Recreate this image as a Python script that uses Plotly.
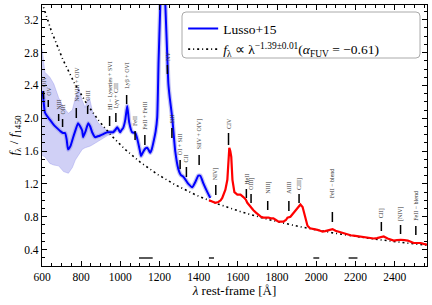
import numpy as np
import plotly.graph_objects as go

# ---------------- data ----------------
blue_wave = [600, 605, 615, 628, 641, 660, 677, 695, 707, 718, 726, 733, 745, 758, 769, 784,
             795, 805, 810, 822, 836, 846, 856, 871, 885, 897, 915, 933, 950, 963, 975, 984,
             992, 999, 1007, 1014, 1025, 1035, 1045, 1060, 1076, 1085, 1091, 1100, 1106, 1116,
             1127, 1137, 1145, 1152, 1160, 1168, 1180, 1188, 1195, 1203, 1210, 1216, 1224, 1230,
             1238, 1245, 1252, 1265, 1280, 1296, 1308, 1320, 1333, 1347, 1367, 1382, 1398, 1408,
             1423, 1444, 1459]
blue_flux = [2.33, 2.28, 2.07, 2.02, 1.98, 1.92, 1.88, 1.84, 1.82, 1.82, 1.74, 1.62, 1.66, 1.76, 1.84, 1.94,
             1.90, 1.85, 1.77, 1.84, 1.94, 1.90, 1.83, 1.77, 1.78, 1.79, 1.81, 1.83, 1.83, 1.83, 1.86, 1.89,
             1.86, 1.83, 1.86, 1.88, 1.98, 2.15, 1.95, 1.83, 1.82, 1.76, 1.70, 1.60, 1.54, 1.59,
             1.63, 1.64, 1.61, 1.58, 1.62, 1.70, 1.84, 2.01, 2.70, 3.31, 3.80, 4.00, 3.80, 3.35,
             2.85, 2.42, 2.25, 2.00, 1.60, 1.38, 1.31, 1.29, 1.25, 1.20, 1.16, 1.22, 1.30, 1.30,
             1.21, 1.10, 1.03]

band_wave = [600, 615, 640, 660, 685, 710, 735, 755, 770, 785, 805, 820, 836, 845, 860, 885,
             910, 935, 960, 985, 1000]
band_upper = [2.85, 2.56, 2.50, 2.42, 2.25, 2.13, 2.06, 2.10, 2.25, 2.38, 2.22, 2.13, 2.25, 2.22, 2.06, 1.95,
              1.89, 1.85, 1.85, 1.90, 1.86]
band_lower = [1.55, 1.53, 1.45, 1.43, 1.42, 1.35, 1.33, 1.40, 1.49, 1.55, 1.62, 1.64, 1.65, 1.66, 1.68, 1.72,
              1.75, 1.79, 1.81, 1.85, 1.82]

red_wave = [1452, 1469, 1485, 1500, 1512, 1520, 1530, 1536, 1546, 1551, 1556, 1561, 1566, 1572, 1582,
            1597, 1613, 1628, 1640, 1648, 1664, 1679, 1692, 1705, 1718, 1730, 1743, 1756, 1768, 1781,
            1794, 1807, 1820, 1832, 1845, 1853, 1868, 1884, 1895, 1904, 1912, 1919, 1930, 1945, 1955,
            1968, 1981, 1994, 2006, 2020, 2032, 2045, 2057, 2070, 2083, 2098, 2110, 2124, 2142, 2160,
            2175, 2190, 2208, 2226, 2245, 2262, 2278, 2293, 2310, 2328, 2344, 2364, 2380, 2395, 2412,
            2431, 2450, 2467, 2482, 2497, 2515, 2533, 2548, 2565]
red_flux = [1.00, 0.98, 0.97, 0.98, 1.00, 1.03, 1.08, 1.13, 1.25, 1.49, 1.64, 1.60, 1.53, 1.25, 1.10,
            1.07, 1.07, 1.04, 1.01, 0.97, 0.92, 0.88, 0.85, 0.82, 0.80, 0.79, 0.79, 0.79, 0.78, 0.78,
            0.76, 0.74, 0.74, 0.74, 0.76, 0.79, 0.80, 0.85, 0.88, 0.91, 0.94, 0.95, 0.92, 0.80, 0.69,
            0.66, 0.65, 0.645, 0.64, 0.63, 0.62, 0.625, 0.63, 0.64, 0.65, 0.63, 0.62, 0.61, 0.595, 0.58,
            0.575, 0.57, 0.565, 0.56, 0.555, 0.55, 0.54, 0.535, 0.54, 0.55, 0.56, 0.535, 0.52, 0.51, 0.515,
            0.52, 0.515, 0.51, 0.495, 0.48, 0.48, 0.48, 0.47, 0.46]

# power-law continuum model: f ∝ λ^slope, normalised at 1450 Å
pl_slope = -1.39
pl_norm = 1.0
pl_wave = np.linspace(600, 2565, 300)
pl_flux = pl_norm * (pl_wave / 1450.0) ** pl_slope

# emission-line identifications
line_names = ["OIV", "OV", "NIII", "OIII", "NeVIII + OIV", "OIII", "HI − Lyseries + SVI",
              "Lyγ + CIII", "Lyβ + OVI", "FeII", "FeII + FeIII", "NV", "SiII", "OI + SiII", "CII",
              "SiIV + OIV]", "NIV]", "CIV", "HeII", "OIII]", "NIII]", "AlIII", "CIII]",
              "FeII − blend", "CII]", "[NIV]", "FeII − blend"]
line_wave = [608, 632, 685, 705, 775, 833, 945, 977, 1032, 1075, 1125, 1240, 1263, 1305, 1337,
             1402, 1487, 1552, 1643, 1667, 1752, 1860, 1912, 2082, 2332, 2430, 2508]
# label layout (pixel rows in the figure: text bottom, tick top, tick bottom)
label_px = [(89, 91, 99), (98, 100, 107), (112, 114, 121), (117, 119, 127), (104, 108, 118),
            (103, 106, 114), (112, 116, 126), (110, 113, 122), (91, 95, 104), (128, 131, 140),
            (132, 135, 145), (63, 65, 74), (125, 128, 138), (157, 160, 169), (164, 167, 177),
            (151, 155, 165), (182, 185, 195), (131, 133, 145), (187, 189, 198), (192, 194, 203),
            (196, 201, 210), (196, 201, 211), (192, 194, 203), (200, 212, 222), (220, 222, 231),
            (223, 225, 234), (223, 226, 235)]

# continuum windows
win_start = [1095, 1452, 1985, 2165]
win_end = [1165, 1478, 2015, 2210]

# ---------------- figure ----------------
SERIF = "Liberation Serif, Times New Roman, serif"
ML, MR, MT, MB = 42, 5, 5, 39
W, H = 432, 305
PLOT_W, PLOT_H = W - ML - MR, H - MT - MB
Y0, Y1 = 0.2, 3.38


def px_to_y(py):
    return Y1 - (py - MT) / PLOT_H * (Y1 - Y0)


fig = go.Figure()

fig.add_trace(go.Scatter(x=band_wave, y=band_upper, mode="lines",
                         line=dict(color="rgba(120,120,230,0.5)", width=0.6),
                         showlegend=False, hoverinfo="skip"))
fig.add_trace(go.Scatter(x=band_wave, y=band_lower, mode="lines", fill="tonexty",
                         fillcolor="rgba(150,150,235,0.45)",
                         line=dict(color="rgba(120,120,230,0.5)", width=0.6),
                         showlegend=False, hoverinfo="skip"))
fig.add_trace(go.Scatter(x=blue_wave, y=blue_flux, mode="lines",
                         line=dict(color="rgba(150,150,235,0.55)", width=4.5, shape="spline", smoothing=0.5),
                         showlegend=False, hoverinfo="skip"))
fig.add_trace(go.Scatter(x=pl_wave, y=pl_flux, mode="lines",
                         line=dict(color="black", width=1.6, dash="2px,3px,1px,3px"),
                         showlegend=False))
fig.add_trace(go.Scatter(x=red_wave, y=red_flux, mode="lines",
                         line=dict(color="#ff0000", width=2.2),
                         showlegend=False))
fig.add_trace(go.Scatter(x=blue_wave, y=blue_flux, mode="lines", name="Lusso+15",
                         line=dict(color="#0000ff", width=2.0, shape="spline", smoothing=0.5)))
fig.add_trace(go.Scatter(x=[None], y=[None], mode="lines",
                         name="<i>f</i><sub>λ</sub> ∝ λ<sup>−1.39±0.01</sup>(<i>α</i><sub>FUV</sub> = −0.61)",
                         line=dict(color="black", width=1.6, dash="2px,3px,1px,3px")))

shapes = []
annotations = []
for name, w, (tb, t0, t1) in zip(line_names, line_wave, label_px):
    annotations.append(dict(x=w, y=px_to_y(tb), xref="x", yref="y", text=name, textangle=-90,
                            showarrow=False, xanchor="center", yanchor="bottom",
                            font=dict(size=6, color="#333333", family=SERIF)))
    shapes.append(dict(type="line", xref="x", yref="y", x0=w, x1=w, y0=px_to_y(t0), y1=px_to_y(t1),
                       line=dict(color="black", width=1.5)))

wy = px_to_y(258)
for a, b in zip(win_start, win_end):
    shapes.append(dict(type="line", xref="x", yref="y", x0=a, x1=b, y0=wy, y1=wy,
                       line=dict(color="black", width=1.3)))

# rounded legend frame (pixel box 182..420 x 12..58)
bx0, bx1 = (182 - ML) / PLOT_W, (420 - ML) / PLOT_W
by0, by1 = 1 - (58 - MT) / PLOT_H, 1 - (12 - MT) / PLOT_H
rx, ry = 4 / PLOT_W, 4 / PLOT_H
path = (f"M {bx0+rx},{by1} L {bx1-rx},{by1} Q {bx1},{by1} {bx1},{by1-ry} "
        f"L {bx1},{by0+ry} Q {bx1},{by0} {bx1-rx},{by0} L {bx0+rx},{by0} "
        f"Q {bx0},{by0} {bx0},{by0+ry} L {bx0},{by1-ry} Q {bx0},{by1} {bx0+rx},{by1} Z")
shapes.append(dict(type="path", xref="paper", yref="paper", path=path,
                   line=dict(color="#aaaaaa", width=1), fillcolor="rgba(255,255,255,0.9)", layer="below"))

fig.update_layout(
    width=W, height=H,
    margin=dict(l=ML, r=MR, t=MT, b=MB, autoexpand=False),
    paper_bgcolor="white", plot_bgcolor="rgba(0,0,0,0)",
    font=dict(family=SERIF, size=12, color="black"),
    shapes=shapes, annotations=annotations,
    legend=dict(x=bx0 + 0.003, y=by1 - 0.005, xanchor="left", yanchor="top",
                borderwidth=0, bgcolor="rgba(0,0,0,0)", traceorder="normal",
                font=dict(size=13.5, family=SERIF), tracegroupgap=0, itemwidth=30),
)
axis_common = dict(showline=True, linecolor="black", linewidth=1.2, mirror="allticks",
                   ticks="inside", ticklen=5, tickwidth=1.1, tickcolor="black",
                   showgrid=False, zeroline=False, automargin=False,
                   tickfont=dict(size=11.5, family=SERIF))
fig.update_xaxes(range=[600, 2565], tickvals=list(range(600, 2401, 200)),
                 minor=dict(ticks="inside", dtick=50, tick0=600, ticklen=3, tickcolor="black"),
                 title=dict(text="<i>λ</i> rest-frame [Å]", font=dict(size=13, family=SERIF), standoff=2),
                 **axis_common)
fig.update_yaxes(range=[Y0, Y1], tickvals=[0.4, 0.8, 1.2, 1.6, 2.0, 2.4, 2.8, 3.2],
                 ticktext=["0.4", "0.8", "1.2", "1.6", "2.0", "2.4", "2.8", "3.2"],
                 minor=dict(ticks="inside", dtick=0.1, tick0=0.2, ticklen=3, tickcolor="black"),
                 title=dict(text="<i>f</i><sub>λ</sub> / <i>f</i><sub>1450</sub>",
                            font=dict(size=13, family=SERIF), standoff=2),
                 **axis_common)

fig.write_html("out.html", config={"displayModeBar": False},
               post_script="document.body.style.margin='0';document.body.style.padding='0';")
